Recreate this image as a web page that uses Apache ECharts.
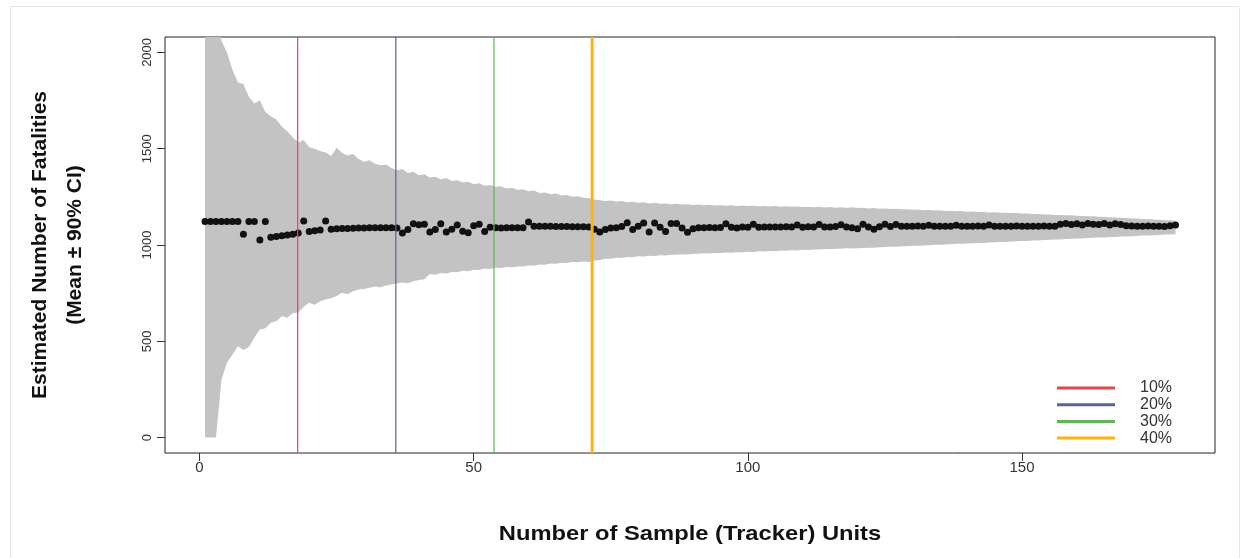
<!DOCTYPE html>
<html>
<head>
<meta charset="utf-8">
<script src="https://cdn.jsdelivr.net/npm/echarts@6/dist/echarts.min.js"></script>
<style>
html,body{margin:0;padding:0;background:#fff;}
#chart{width:1245px;height:558px;}
</style>
</head>
<body>
<div id="chart"></div>
<script>
// ---- data ----
const xTicks = [0, 50, 100, 150];
const yTicks = [0, 500, 1000, 1500, 2000];

const meanEst = [
 1122,1122,1122,1122,1122,1122,1122,1056,1122,1122,
 1026,1122,1040,1044,1048,1052,1056,1062,1125,1070,
 1074,1078,1125,1082,1084,1086,1086,1087,1088,1088,
 1089,1089,1090,1090,1090,1088,1062,1080,1110,1105,
 1108,1068,1080,1110,1068,1082,1104,1072,1064,1100,
 1108,1070,1092,1090,1088,1089,1089,1090,1090,1120,
 1098,1098,1097,1097,1096,1096,1096,1095,1095,1095,
 1094,1082,1068,1080,1088,1090,1096,1116,1080,1098,
 1114,1068,1114,1092,1070,1112,1112,1088,1066,1085,
 1090,1090,1091,1090,1091,1110,1092,1088,1094,1092,
 1108,1092,1094,1093,1094,1093,1095,1094,1104,1092,
 1095,1094,1106,1093,1094,1096,1105,1094,1090,1084,
 1108,1094,1082,1095,1108,1096,1106,1098,1097,1098,
 1099,1098,1102,1098,1097,1098,1098,1103,1098,1097,
 1098,1099,1098,1104,1098,1097,1098,1098,1099,1098,
 1097,1098,1098,1099,1098,1098,1108,1112,1106,1110,
 1104,1112,1108,1106,1112,1104,1110,1106,1100,1099,
 1098,1098,1099,1097,1098,1096,1100,1104
];

const upperCI = [
 2600,2450,2250,2060,2000,1910,1845,1835,1770,1735,
 1752,1690,1668,1652,1615,1590,1560,1532,1545,1508,
 1500,1488,1480,1462,1505,1478,1465,1472,1446,1432,
 1440,1422,1414,1418,1400,1388,1394,1374,1380,1362,
 1368,1350,1354,1342,1348,1332,1336,1324,1328,1316,
 1320,1308,1312,1302,1305,1294,1297,1286,1289,1279,
 1283,1270,1273,1264,1267,1257,1259,1251,1253,1245,
 1243,1236,1232,1228,1231,1226,1228,1222,1225,1219,
 1222,1216,1219,1214,1216,1212,1214,1210,1212,1208,
 1210,1207,1209,1205,1207,1204,1206,1203,1205,1202,
 1204,1201,1203,1200,1202,1199,1201,1198,1200,1197,
 1199,1196,1198,1195,1197,1194,1196,1193,1196,1192,
 1193,1190,1192,1188,1190,1187,1188,1185,1186,1183,
 1184,1181,1182,1179,1180,1177,1178,1175,1176,1173,
 1174,1171,1172,1169,1170,1167,1168,1165,1166,1163,
 1163,1161,1161,1158,1159,1156,1156,1154,1154,1152,
 1151,1149,1149,1147,1146,1144,1143,1141,1140,1138,
 1137,1135,1134,1132,1131,1129,1128,1126
];

const lowerCI = [
 0,0,0,300,390,430,474,455,470,520,
 561,568,596,604,630,622,645,650,680,700,
 690,708,717,724,735,752,744,760,769,772,
 778,784,780,790,795,800,805,802,812,818,
 822,850,845,855,852,860,858,866,864,872,
 870,878,876,882,880,886,884,889,888,894,
 893,899,898,904,902,908,906,912,910,914,
 912,918,922,928,928,934,932,938,936,941,
 940,944,943,947,946,950,949,952,951,955,
 954,957,956,959,958,961,960,963,962,965,
 964,967,966,969,968,971,970,973,972,975,
 974,977,976,979,978,981,980,983,982,983,
 984,986,986,988,989,991,991,993,994,996,
 996,998,999,1001,1001,1003,1004,1006,1006,1008,
 1009,1011,1011,1013,1014,1016,1016,1018,1019,1021,
 1021,1023,1024,1026,1027,1029,1029,1031,1032,1034,
 1034,1036,1037,1039,1039,1041,1042,1044,1044,1046,
 1047,1049,1049,1051,1052,1054,1054,1056
];

const refLabels = ['10%', '20%', '30%', '40%'];
const refPositions = [17.9, 35.8, 53.7, 71.6];

// ---- styles ----
const refColors = ['#e2464f', '#56639e', '#62b556', '#ffb30f'];
const refWidths = [1.2, 1.2, 1.2, 3];
const Y_MIN = -80, Y_MAX = 2080;
const X_MIN = -6.3, X_MAX = 185.2;

const chart = echarts.init(document.getElementById('chart'), null, {renderer: 'canvas'});

const bandData = upperCI.map((u, i) => [i + 1, u, lowerCI[i]]);

const series = [
  {
    type: 'custom', name: 'band', silent: true,
    data: bandData,
    encode: {x: 0, y: [1, 2]},
    renderItem: function (params, api) {
      if (params.dataIndex !== 0) return null;
      const pts = [];
      for (let i = 0; i < bandData.length; i++) pts.push(api.coord([bandData[i][0], bandData[i][1]]));
      for (let i = bandData.length - 1; i >= 0; i--) pts.push(api.coord([bandData[i][0], bandData[i][2]]));
      const cs = params.coordSys;
      return {
        type: 'polygon',
        shape: {points: pts},
        style: {fill: '#c3c3c3', stroke: null},
        clipPath: {type: 'rect', shape: {x: cs.x, y: cs.y, width: cs.width, height: cs.height}}
      };
    },
    z: 1
  },
  {
    type: 'scatter', name: 'mean', silent: true,
    data: meanEst.map((v, i) => [i + 1, v]),
    symbol: 'circle', symbolSize: 7,
    itemStyle: {color: '#111111', opacity: 1}, z: 3
  }
];
refPositions.forEach((p, k) => {
  series.push({
    type: 'line', name: refLabels[k], silent: true,
    data: [[p, Y_MIN], [p, Y_MAX]],
    symbol: 'none',
    lineStyle: {color: refColors[k], width: refWidths[k]},
    itemStyle: {color: refColors[k]},
    z: 4
  });
});

const option = {
  animation: false,
  backgroundColor: '#ffffff',
  grid: {left: 165, top: 37, right: 30, bottom: 105, show: true, borderColor: '#222', borderWidth: 1, backgroundColor: 'transparent'},
  xAxis: {
    type: 'value', min: X_MIN, max: X_MAX,
    axisLine: {show: false, onZero: false},
    splitLine: {show: false},
    axisTick: {show: true, length: 8, inside: false, lineStyle: {color: '#333'}, customValues: xTicks},
    axisLabel: {show: true, customValues: xTicks, margin: 7, color: '#333', fontSize: 15, fontFamily: 'Liberation Sans, Arial, sans-serif', formatter: v => String(v)}
  },
  yAxis: {
    type: 'value', min: Y_MIN, max: Y_MAX,
    axisLine: {show: false, onZero: false},
    splitLine: {show: false},
    axisTick: {show: true, length: 8, inside: false, lineStyle: {color: '#333'}, customValues: yTicks},
    axisLabel: {show: true, customValues: yTicks, rotate: 90, margin: 11, color: '#333', fontSize: 13, fontFamily: 'Liberation Sans, Arial, sans-serif', formatter: v => String(v)}
  },
  legend: {
    orient: 'vertical', left: 1052, top: 375,
    itemWidth: 58, itemHeight: 3, itemGap: 0.7,
    data: refLabels.map(n => ({name: n, icon: 'rect'})),
    textStyle: {fontSize: 16, color: '#333', fontFamily: 'Liberation Sans Narrow, Arial Narrow, Liberation Sans, sans-serif', padding: [0, 0, 0, 20], lineHeight: 14},
    selectedMode: false
  },
  graphic: [
    {type: 'rect', left: 8, top: 4, shape: {width: 1229, height: 552}, style: {fill: 'none', stroke: '#e6e6e6', lineWidth: 1}, silent: true, z: -10},
    {type: 'text', x: 690, y: 534, scaleX: 1.13, style: {text: 'Number of Sample (Tracker) Units', font: 'bold 21px "Liberation Sans", Arial, sans-serif', fill: '#111', textAlign: 'center', textVerticalAlign: 'middle'}},
    {type: 'text', x: 58, y: 245, rotation: Math.PI / 2, style: {text: 'Estimated Number of Fatalities\n(Mean ± 90% CI)', font: 'bold 21px "Liberation Sans", Arial, sans-serif', fill: '#111', textAlign: 'center', textVerticalAlign: 'middle', lineHeight: 35}}
  ],
  series: series
};
chart.setOption(option);
</script>
</body>
</html>
